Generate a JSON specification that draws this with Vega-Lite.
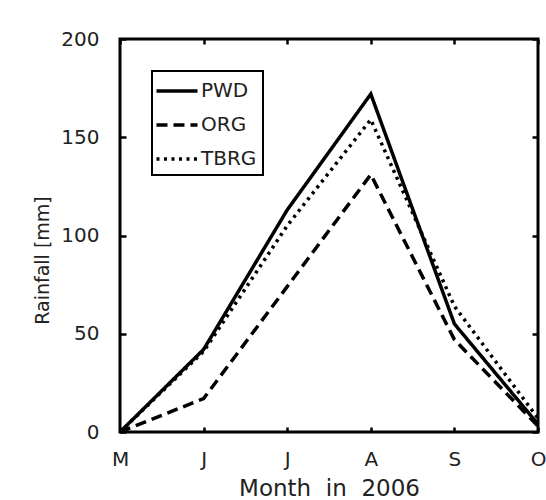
{
  "$schema": "https://vega.github.io/schema/vega-lite/v6.json",
  "width": 418,
  "height": 393,
  "autosize": {"type": "none"},
  "padding": {"left": 120, "top": 39, "right": 8, "bottom": 68},
  "background": "white",
  "config": {
    "view": {"stroke": "black", "strokeWidth": 3},
    "font": "DejaVu Sans",
    "axis": {
      "domain": false,
      "grid": false,
      "labelColor": "#222",
      "titleColor": "#222",
      "ticks": true,
      "tickColor": "black",
      "tickWidth": 2.5,
      "labelFontSize": 20,
      "labelFont": "DejaVu Sans",
      "titleFont": "DejaVu Sans",
      "titleFontWeight": "normal"
    }
  },
  "data": {
    "values": [
      {"month": "May", "series": "PWD", "rain": 0},
      {"month": "Jun", "series": "PWD", "rain": 42},
      {"month": "Jul", "series": "PWD", "rain": 113},
      {"month": "Aug", "series": "PWD", "rain": 172},
      {"month": "Sep", "series": "PWD", "rain": 55},
      {"month": "Oct", "series": "PWD", "rain": 4},
      {"month": "May", "series": "ORG", "rain": 0},
      {"month": "Jun", "series": "ORG", "rain": 17},
      {"month": "Jul", "series": "ORG", "rain": 74},
      {"month": "Aug", "series": "ORG", "rain": 131},
      {"month": "Sep", "series": "ORG", "rain": 47},
      {"month": "Oct", "series": "ORG", "rain": 3},
      {"month": "May", "series": "TBRG", "rain": 0},
      {"month": "Jun", "series": "TBRG", "rain": 41},
      {"month": "Jul", "series": "TBRG", "rain": 105},
      {"month": "Aug", "series": "TBRG", "rain": 159},
      {"month": "Sep", "series": "TBRG", "rain": 64},
      {"month": "Oct", "series": "TBRG", "rain": 7}
    ]
  },
  "layer": [
    {
      "mark": {"type": "line", "strokeWidth": 3.5, "color": "black", "strokeCap": "butt"},
      "encoding": {
        "x": {
          "field": "month",
          "type": "ordinal",
          "sort": ["May", "Jun", "Jul", "Aug", "Sep", "Oct"],
          "scale": {"type": "point", "padding": 0},
          "axis": {
            "orient": "bottom",
            "offset": -5,
            "tickSize": 5,
            "labelExpr": "substring(datum.label, 0, 1)",
            "labelAngle": 0,
            "labelPadding": 17,
            "title": "Month\u00a0 in\u00a0 2006",
            "titleFontSize": 23,
            "titleY": 68,
            "titleBaseline": "alphabetic"
          }
        },
        "y": {
          "field": "rain",
          "type": "quantitative",
          "scale": {"domain": [0, 200], "nice": false},
          "axis": {
            "orient": "left",
            "offset": -6,
            "tickSize": 6,
            "values": [0, 50, 100, 150, 200],
            "labelPadding": 21,
            "title": "Rainfall [mm]",
            "titleFontSize": 19,
            "titleX": -84,
            "titleY": 221,
            "titleAlign": "center",
            "titleBaseline": "middle"
          }
        },
        "strokeDash": {
          "field": "series",
          "type": "nominal",
          "scale": {"domain": ["PWD", "ORG", "TBRG"], "range": [[1, 0], [11, 6], [3, 4.5]]},
          "legend": {
            "orient": "none",
            "legendX": 32,
            "legendY": 32,
            "title": null,
            "symbolType": "M-1.71,0H1.71",
            "symbolSize": 576,
            "symbolStrokeWidth": 3.5,
            "symbolStrokeColor": "black",
            "labelFontSize": 20,
            "labelFont": "DejaVu Sans",
            "labelColor": "#222",
            "padding": 6,
            "rowPadding": 10,
            "labelOffset": 10,
            "symbolOffset": 5,
            "strokeColor": "black",
            "fillColor": "white",
            "encode": {"legend": {"update": {"strokeWidth": {"value": 2}}}}
          }
        }
      }
    },
    {
      "mark": {"type": "line", "opacity": 0},
      "encoding": {
        "x": {
          "field": "month",
          "type": "ordinal",
          "sort": ["May", "Jun", "Jul", "Aug", "Sep", "Oct"],
          "axis": {"orient": "top", "offset": -5, "tickSize": 5, "labels": false, "title": null}
        },
        "y": {
          "field": "rain",
          "type": "quantitative",
          "axis": {"orient": "right", "offset": -6, "tickSize": 6, "labels": false, "title": null, "values": [0, 50, 100, 150, 200]}
        },
        "detail": {"field": "series"}
      }
    }
  ],
  "resolve": {"axis": {"x": "independent", "y": "independent"}}
}
